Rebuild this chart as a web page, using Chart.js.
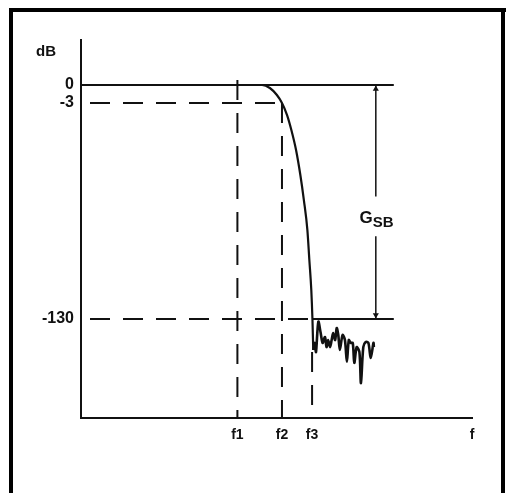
<!DOCTYPE html>
<html><head><meta charset="utf-8">
<script src="https://cdn.jsdelivr.net/npm/chart.js@4.4.0/dist/chart.umd.min.js"></script>
<style>html,body{margin:0;padding:0;background:#fff;}canvas{display:block;}</style>
</head><body>
<canvas id="c" width="506" height="493"></canvas>
<script>
// Schematic filter response (x: relative frequency, y: schematic level units)
const xTickValues = [40, 51.4, 59.1, 100];
const xTickLabels = ['f1', 'f2', 'f3', 'f'];
const yTickValues = [0, -10, -130];
const yTickLabels = ['0', '-3', '-130'];

const rolloffX = [0, 46.3, 48.3, 50.1, 51.4, 52.7, 53.8, 55.0, 56.1, 57.0, 57.9, 58.4, 58.9, 59.2, 59.4];
const rolloffY = [0, 0, -1.67, -5.56, -10, -16.7, -25, -36.1, -50, -63.9, -80.6, -97.2, -113.9, -130.6, -147.2];

const noiseX = [59.4, 59.8, 60.1, 60.7, 61.3, 61.8, 62.4, 62.8, 63.2, 63.7, 64.1, 64.5, 65.0, 65.4, 65.8, 66.2, 66.9, 67.5, 68.0, 68.5, 69.0, 69.5, 69.9, 70.5, 71.2, 71.6, 72.2, 72.8, 73.5, 74.1, 74.8, 74.9];
const noiseY = [-147.2, -143.3, -148.3, -131.5, -137.8, -143.3, -140, -145.6, -141.7, -145.6, -141.7, -137.8, -141.7, -135, -138.9, -147.2, -138.9, -141.7, -153.7, -141.7, -143.3, -143.3, -154.4, -145.6, -148.3, -165.6, -145.6, -142.8, -143.3, -151.7, -143.3, -145.6];

const levelY = [0, -10, -130];          // 0 dB, -3 dB, -130 dB
const markerX = [40, 51.4, 59.1];       // f1, f2, f3
const levelEndX = 80;
const gsbX = 75.4;
const gsbGap = [-62, -84];
const f3DashY = [-148.3, -178];
const axisY = [-185, 25];
const axisX = [0, 100];

const INK = '#111';
const pts = (xs, ys) => xs.map((x, i) => ({x, y: ys[i]}));
const DASH = [20, 13];

const base = {pointRadius: 0, borderColor: INK, borderWidth: 2, fill: false, tension: 0};
const hDash = {borderDash: DASH, borderDashOffset: 24};
const vDash = {borderDash: DASH, borderDashOffset: 0};

const datasets = [
  {...base, data: pts(rolloffX, rolloffY), cubicInterpolationMode: 'monotone', borderWidth: 2.2},
  {...base, data: pts(noiseX, noiseY), borderWidth: 2.6, tension: 0.3},
  {...base, data: [{x: 0, y: levelY[0]}, {x: levelEndX, y: levelY[0]}]},
  {...base, ...hDash, data: [{x: 0, y: levelY[1]}, {x: markerX[1], y: levelY[1]}]},
  {...base, ...hDash, data: [{x: 0, y: levelY[2]}, {x: markerX[2], y: levelY[2]}]},
  {...base, data: [{x: markerX[2], y: levelY[2]}, {x: levelEndX, y: levelY[2]}]},
  {...base, ...vDash, data: [{x: markerX[0], y: 2.8}, {x: markerX[0], y: axisY[0]}]},
  {...base, ...vDash, data: [{x: markerX[1], y: levelY[1]}, {x: markerX[1], y: axisY[0]}]},
  {...base, ...vDash, data: [{x: markerX[2], y: f3DashY[0]}, {x: markerX[2], y: f3DashY[1]}]},
  {...base, data: [{x: gsbX, y: levelY[0]}, {x: gsbX, y: gsbGap[0]}], borderWidth: 1.5},
  {...base, data: [{x: gsbX, y: gsbGap[1]}, {x: gsbX, y: levelY[2]}], borderWidth: 1.5},
  {data: [{x: gsbX, y: levelY[0] - 2.2}, {x: gsbX, y: levelY[2] + 2.2}], showLine: false,
   pointStyle: 'triangle', pointRotation: [0, 180], pointRadius: 3.5, pointBorderWidth: 0,
   pointBackgroundColor: INK, borderColor: INK}
];

const FONT = '"Liberation Sans", Arial, Helvetica, sans-serif';

const decor = {
  id: 'decor',
  beforeDraw(chart) {
    const ctx = chart.ctx;
    ctx.save();
    ctx.fillStyle = '#fff';
    ctx.fillRect(0, 0, chart.width, chart.height);
    ctx.fillStyle = '#000';
    ctx.fillRect(9, 8, 4, 485);
    ctx.fillRect(9, 8, 497, 4);
    ctx.fillRect(501, 8, 4, 485);
    ctx.restore();
  },
  afterDraw(chart) {
    const ctx = chart.ctx;
    const xs = chart.scales.x, ys = chart.scales.y;
    ctx.save();
    ctx.fillStyle = INK;
    ctx.textBaseline = 'alphabetic';
    ctx.font = 'bold 15px ' + FONT;
    ctx.textAlign = 'left';
    ctx.fillText('dB', 36, 56);
    const gx = xs.getPixelForValue(gsbX);
    const gy = ys.getPixelForValue(-73);
    ctx.font = 'bold 17px ' + FONT;
    ctx.textAlign = 'right';
    ctx.fillText('G', gx - 3, gy + 7);
    ctx.font = 'bold 15px ' + FONT;
    ctx.textAlign = 'left';
    ctx.fillText('SB', gx - 3, gy + 11);
    ctx.restore();
  }
};

new Chart(document.getElementById('c'), {
  type: 'line',
  data: {datasets},
  plugins: [decor],
  options: {
    responsive: false,
    animation: false,
    devicePixelRatio: 1,
    layout: {padding: {top: 40, right: 34, left: 0, bottom: 0}},
    plugins: {legend: {display: false}, tooltip: {enabled: false}},
    scales: {
      x: {
        type: 'linear', min: axisX[0], max: axisX[1],
        grid: {display: false, drawTicks: false},
        border: {display: true, color: INK, width: 2},
        afterBuildTicks: s => { s.ticks = xTickValues.map(v => ({value: v})); },
        afterFit: s => { s.height = 75; },
        ticks: {
          autoSkip: false, maxRotation: 0, padding: 9, color: INK,
          font: {family: FONT, size: 14, weight: 'bold'},
          callback: v => xTickLabels[xTickValues.indexOf(v)]
        }
      },
      y: {
        type: 'linear', min: axisY[0], max: axisY[1],
        grid: {display: false, drawTicks: false},
        border: {display: true, color: INK, width: 2},
        afterBuildTicks: s => { s.ticks = yTickValues.map(v => ({value: v})); },
        afterFit: s => { s.width = 81; },
        ticks: {
          autoSkip: false, padding: 7, color: INK,
          font: {family: FONT, size: 16, weight: 'bold'},
          callback: v => yTickLabels[yTickValues.indexOf(v)]
        }
      }
    }
  }
});
</script>
</body></html>
